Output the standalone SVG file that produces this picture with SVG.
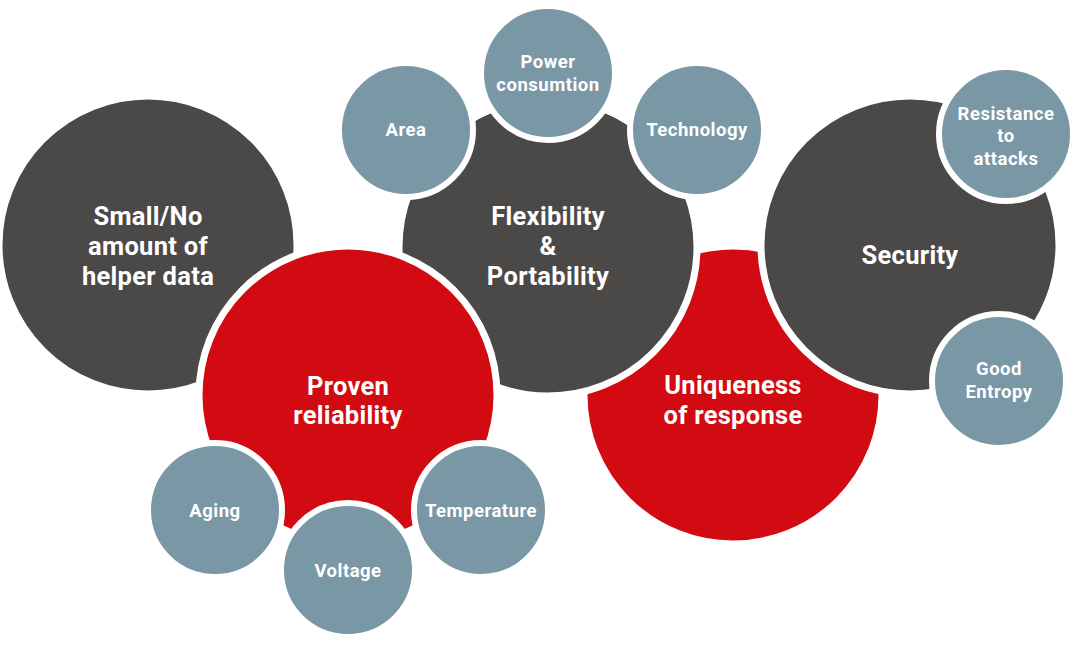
<svg xmlns="http://www.w3.org/2000/svg" width="1088" height="645" viewBox="0 0 1088 645">
<style>
.big{stroke:#fff;stroke-width:7}
.dark{fill:#4b4948}
.red{fill:#d20a11}
.sm{fill:#7a97a6;stroke:#fff;stroke-width:6}
text{font-family:Roboto,"Liberation Sans",sans-serif;font-weight:bold;fill:#fff;text-anchor:middle}
.bt{font-size:25.5px;letter-spacing:0.3px}
.st{font-size:18.5px;letter-spacing:0.5px}
</style>
<rect width="1088" height="645" fill="#fff"/>
<g id="connectors"></g>
<g id="small-no"><circle class="big dark" cx="148" cy="245" r="149"/>
<text class="bt" x="148" y="225">Small/No</text><text class="bt" x="148" y="255">amount of</text><text class="bt" x="148" y="285">helper data</text></g>
<g id="uniqueness"><circle class="big red" cx="733" cy="395" r="149"/>
<text class="bt" x="733" y="394">Uniqueness</text><text class="bt" x="733" y="424">of response</text></g>
<g id="flexibility"><circle class="big dark" cx="548" cy="247" r="149"/>
<text class="bt" x="548" y="225">Flexibility</text><text class="bt" x="548" y="255">&amp;</text><text class="bt" x="548" y="285">Portability</text></g>
<g id="security"><circle class="big dark" cx="910" cy="245" r="149"/>
<text class="bt" x="910" y="264">Security</text></g>
<g id="proven"><circle class="big red" cx="348" cy="395" r="149"/>
<text class="bt" x="348" y="395">Proven</text><text class="bt" x="348" y="424">reliability</text></g>
<g id="area"><circle class="sm" cx="406" cy="130" r="67"/><text class="st" x="406" y="136">Area</text></g>
<g id="power"><circle class="sm" cx="548" cy="73" r="67"/><text class="st" x="548" y="68">Power</text><text class="st" x="548" y="91">consumtion</text></g>
<g id="technology"><circle class="sm" cx="697" cy="130" r="67"/><text class="st" x="697" y="136">Technology</text></g>
<g id="resistance"><circle class="sm" cx="1006" cy="134" r="67"/><text class="st" x="1006" y="120">Resistance</text><text class="st" x="1006" y="142">to</text><text class="st" x="1006" y="165">attacks</text></g>
<g id="entropy"><circle class="sm" cx="999" cy="381" r="67"/><text class="st" x="999" y="375">Good</text><text class="st" x="999" y="398">Entropy</text></g>
<g id="aging"><circle class="sm" cx="215" cy="510" r="67"/><text class="st" x="215" y="517">Aging</text></g>
<g id="temperature"><circle class="sm" cx="481" cy="510" r="67"/><text class="st" x="481" y="517">Temperature</text></g>
<g id="voltage"><circle class="sm" cx="348" cy="570" r="67"/><text class="st" x="348" y="577">Voltage</text></g>
</svg>
